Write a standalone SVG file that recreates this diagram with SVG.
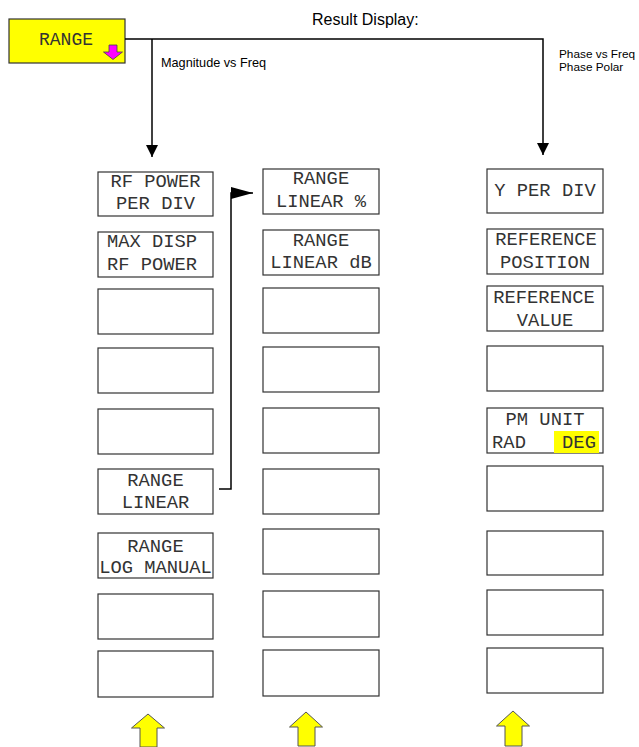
<svg xmlns="http://www.w3.org/2000/svg" width="639" height="747" viewBox="0 0 639 747">
<style>
.box{fill:#fff;stroke:#333;stroke-width:1.2}
.m{font-family:"Liberation Mono","Courier New",monospace;font-size:18.8px;fill:#333;text-anchor:middle}
.s{font-family:"Liberation Sans",Arial,sans-serif;fill:#000}
.ln{fill:none;stroke:#000;stroke-width:1.5}
.ya{fill:#ffff00;stroke:#555;stroke-width:1}
</style>
<defs>
<marker id="ah" viewBox="0 0 12 12" refX="12" refY="6" markerWidth="12" markerHeight="12" markerUnits="userSpaceOnUse" orient="auto">
<path d="M0,0 L12,6 L0,12 z" fill="#000"/>
</marker>
<marker id="ah2" viewBox="0 0 22 12" refX="22" refY="6" markerWidth="22" markerHeight="12" markerUnits="userSpaceOnUse" orient="auto">
<path d="M0,0 L22,6 L0,12 z" fill="#000"/>
</marker>
</defs>
<rect width="639" height="747" fill="#fff"/>

<g id="range-key">
<rect x="9" y="19" width="116" height="44" fill="#ffff00" stroke="#333" stroke-width="1.2"/>
<text class="m" x="66" y="45" style="font-size:18px">RANGE</text>
<path d="M109,45 L117,45 L117,52 L122.5,52 L113,59.5 L103.5,52 L109,52 z" fill="#ff00ff" stroke="#444" stroke-width="0.8"/>
</g>

<g id="labels">
<text class="s" x="312" y="25" font-size="16">Result Display:</text>
<text class="s" x="161" y="67" font-size="12.7">Magnitude vs Freq</text>
<text class="s" x="559" y="58" font-size="11.8">Phase vs Freq</text>
<text class="s" x="559" y="71" font-size="11.8">Phase Polar</text>
</g>

<g id="connectors">
<polyline class="ln" points="125,39 543,39 543,155" marker-end="url(#ah)"/>
<line class="ln" x1="152" y1="39" x2="152" y2="157" marker-end="url(#ah)"/>
<polyline class="ln" points="219,489 231,489 231,193 253,193" marker-end="url(#ah2)"/>
</g>

<g id="col1">
<g id="c1-1"><rect class="box" x="98" y="172" width="115" height="44"/><text class="m" x="155.5" y="187">RF POWER</text><text class="m" x="155.5" y="209">PER DIV</text></g>
<g id="c1-2"><rect class="box" x="98" y="232" width="115" height="45"/><text class="m" x="152" y="247">MAX DISP</text><text class="m" x="152" y="270">RF POWER</text></g>
<g id="c1-3"><rect class="box" x="98" y="289" width="115" height="45"/></g>
<g id="c1-4"><rect class="box" x="98" y="348" width="115" height="45"/></g>
<g id="c1-5"><rect class="box" x="98" y="409" width="115" height="45"/></g>
<g id="c1-6"><rect class="box" x="98" y="469" width="115" height="45"/><text class="m" x="155.5" y="486">RANGE</text><text class="m" x="155.5" y="508">LINEAR</text></g>
<g id="c1-7"><rect class="box" x="98" y="533" width="115" height="45"/><text class="m" x="155.5" y="552">RANGE</text><text class="m" x="155.5" y="573">LOG MANUAL</text></g>
<g id="c1-8"><rect class="box" x="98" y="594" width="115" height="45"/></g>
<g id="c1-9"><rect class="box" x="98" y="651" width="115" height="46"/></g>
</g>

<g id="col2">
<g id="c2-1"><rect class="box" x="263" y="169" width="116" height="45"/><text class="m" x="321" y="184">RANGE</text><text class="m" x="321" y="207">LINEAR %</text></g>
<g id="c2-2"><rect class="box" x="263" y="230" width="116" height="45"/><text class="m" x="321" y="246">RANGE</text><text class="m" x="321" y="268">LINEAR dB</text></g>
<g id="c2-3"><rect class="box" x="263" y="288" width="116" height="45"/></g>
<g id="c2-4"><rect class="box" x="263" y="347" width="116" height="45"/></g>
<g id="c2-5"><rect class="box" x="263" y="408" width="116" height="45"/></g>
<g id="c2-6"><rect class="box" x="263" y="469" width="116" height="45"/></g>
<g id="c2-7"><rect class="box" x="263" y="529" width="116" height="45"/></g>
<g id="c2-8"><rect class="box" x="263" y="591" width="116" height="46"/></g>
<g id="c2-9"><rect class="box" x="263" y="650" width="116" height="46"/></g>
</g>

<g id="col3">
<g id="c3-1"><rect class="box" x="487" y="169" width="116" height="44"/><text class="m" x="545" y="196">Y PER DIV</text></g>
<g id="c3-2"><rect class="box" x="487" y="229" width="116" height="45"/><text class="m" x="546" y="245">REFERENCE</text><text class="m" x="545" y="268">POSITION</text></g>
<g id="c3-3"><rect class="box" x="487" y="286" width="116" height="45"/><text class="m" x="544" y="303">REFERENCE</text><text class="m" x="545" y="326">VALUE</text></g>
<g id="c3-4"><rect class="box" x="487" y="346" width="116" height="45"/></g>
<g id="c3-5"><rect class="box" x="487" y="408" width="116" height="45"/><rect x="554" y="431" width="45" height="22" fill="#ffff00"/><text class="m" x="545" y="425">PM UNIT</text><text class="m" x="509" y="448">RAD</text><text class="m" x="579" y="448">DEG</text></g>
<g id="c3-6"><rect class="box" x="487" y="466" width="116" height="45"/></g>
<g id="c3-7"><rect class="box" x="487" y="531" width="116" height="44"/></g>
<g id="c3-8"><rect class="box" x="487" y="590" width="116" height="45"/></g>
<g id="c3-9"><rect class="box" x="487" y="648" width="116" height="45"/></g>
</g>

<g id="softkey-arrows">
<path class="ya" d="M148,714 L164.5,728 L157,728 L157,747 L140,747 L140,728 L131.5,728 z"/>
<path class="ya" d="M306,712 L322.5,727 L315,727 L315,746 L298,746 L298,727 L289.5,727 z"/>
<path class="ya" d="M513,711 L529.5,726 L522,726 L522,746 L505,746 L505,726 L496.5,726 z"/>
</g>
</svg>
